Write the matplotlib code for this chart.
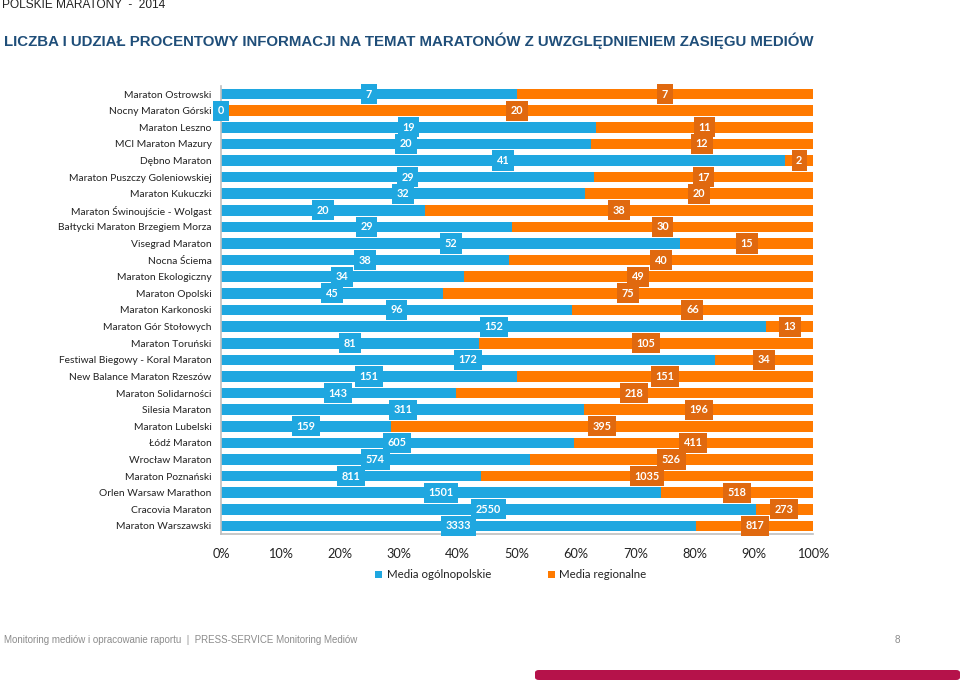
import matplotlib
matplotlib.use("Agg")
import matplotlib.pyplot as plt
from matplotlib.patches import FancyBboxPatch
import numpy as np

plt.rcParams['font.family'] = ['Lato', 'DejaVu Sans']

categories = [
    "Maraton Ostrowski", "Nocny Maraton Górski", "Maraton Leszno", "MCI Maraton Mazury",
    "Dębno Maraton", "Maraton Puszczy Goleniowskiej", "Maraton Kukuczki",
    "Maraton Świnoujście - Wolgast", "Bałtycki Maraton Brzegiem Morza", "Visegrad Maraton",
    "Nocna Ściema", "Maraton Ekologiczny", "Maraton Opolski", "Maraton Karkonoski",
    "Maraton Gór Stołowych", "Maraton Toruński", "Festiwal Biegowy - Koral Maraton",
    "New Balance Maraton Rzeszów", "Maraton Solidarności", "Silesia Maraton",
    "Maraton Lubelski", "Łódź Maraton", "Wrocław Maraton", "Maraton Poznański",
    "Orlen Warsaw Marathon", "Cracovia Maraton", "Maraton Warszawski",
]
national = [7, 0, 19, 20, 41, 29, 32, 20, 29, 52, 38, 34, 45, 96, 152, 81, 172, 151,
            143, 311, 159, 605, 574, 811, 1501, 2550, 3333]
regional = [7, 20, 11, 12, 2, 17, 20, 38, 30, 15, 40, 49, 75, 66, 13, 105, 34, 151,
            218, 196, 395, 411, 526, 1035, 518, 273, 817]
series_names = ["Media ogólnopolskie", "Media regionalne"]
xtick_labels = ["0%", "10%", "20%", "30%", "40%", "50%", "60%", "70%", "80%", "90%", "100%"]

BLUE = "#1FA7E0"
ORANGE = "#FF7A00"
ORANGE_BOX = "#E0690F"

nat = np.array(national, dtype=float)
reg = np.array(regional, dtype=float)
tot = nat + reg
pn = nat / tot
pr = reg / tot

fig = plt.figure(figsize=(9.6, 6.8), dpi=100)
ax = fig.add_axes([221/960, 1-534.3/680, (813-221)/960, (534.3-85.7)/680])

y = np.arange(len(categories))
ax.barh(y, pn, height=0.64, color=BLUE, label=series_names[0])
ax.barh(y, pr, left=pn, height=0.64, color=ORANGE, label=series_names[1])

ax.set_xlim(0, 1)
ax.set_ylim(len(categories) - 0.5, -0.5)
ax.set_yticks(y)
ax.set_yticklabels(categories, fontsize=7.35, color="#222222")
ax.set_xticks(np.linspace(0, 1, 11))
ax.set_xticklabels(xtick_labels, fontsize=9.2, color="#222222")
ax.tick_params(axis='both', length=0)
ax.tick_params(axis='y', pad=6.8)
ax.tick_params(axis='x', pad=10)
for s in ['top', 'right']:
    ax.spines[s].set_visible(False)
for s in ['left', 'bottom']:
    ax.spines[s].set_color("#BFBFBF")
    ax.spines[s].set_linewidth(1.2)

for i in range(len(categories)):
    ax.text(pn[i] / 2, y[i], str(national[i]), ha='center', va='center',
            fontsize=7.8, fontweight='bold', color='white',
            bbox=dict(boxstyle='square,pad=0.42', fc=BLUE, ec='none'))
    ax.text(pn[i] + pr[i] / 2, y[i], str(regional[i]), ha='center', va='center',
            fontsize=7.8, fontweight='bold', color='white',
            bbox=dict(boxstyle='square,pad=0.42', fc=ORANGE_BOX, ec='none'))

leg = fig.legend(loc='center', bbox_to_anchor=(511/960, 1-575/680), ncol=2, frameon=False,
                 fontsize=8.3, handlelength=0.6, handleheight=0.6, columnspacing=4.9,
                 handletextpad=0.4)
for t in leg.get_texts():
    t.set_color("#222222")

fig.text(2/960, 1-5/680, "POLSKIE MARATONY  -  2014", fontsize=8.6, color="#222222",
         ha='left', va='center', family=['Liberation Sans', 'DejaVu Sans'])
fig.text(4/960, 1-41/680,
         "LICZBA I UDZIAŁ PROCENTOWY INFORMACJI NA TEMAT MARATONÓW Z UWZGLĘDNIENIEM ZASIĘGU MEDIÓW",
         fontsize=10.8, fontweight='bold', color="#1F4E79", ha='left', va='center',
         family=['Liberation Sans', 'DejaVu Sans'])
fig.text(4/960, 1-640/680,
         "Monitoring mediów i opracowanie raportu  |  PRESS-SERVICE Monitoring Mediów",
         fontsize=7.0, color="#8C8C8C", ha='left', va='center',
         family=['Liberation Sans', 'DejaVu Sans'])
fig.text(897/960, 1-640/680, "8", fontsize=7.2, color="#8C8C8C", ha='center', va='center',
         family=['Liberation Sans', 'DejaVu Sans'])

fig.patches.append(FancyBboxPatch((535/960, 0), 425/960, 10/680,
                                  boxstyle="round,pad=0,rounding_size=0.004",
                                  transform=fig.transFigure, fc="#B5124A", ec='none',
                                  figure=fig))

fig.savefig("out.png", dpi=100)
